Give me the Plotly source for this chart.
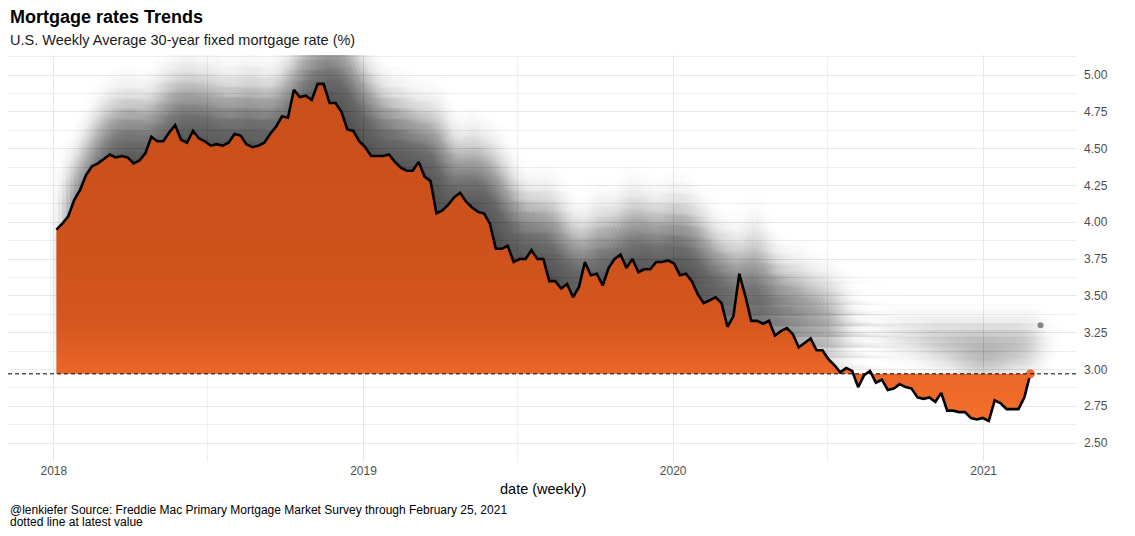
import numpy as np
import pandas as pd
import plotly.graph_objects as go

# ---------------- data ----------------
start_date = "2018-01-04"  # first weekly survey date (Thursdays)
rates_2018 = [3.95, 3.99, 4.04, 4.15, 4.22, 4.32, 4.38, 4.40, 4.43, 4.46, 4.44, 4.45, 4.44,
              4.40, 4.42, 4.47, 4.58, 4.55, 4.55, 4.61, 4.66, 4.56, 4.54, 4.62, 4.57, 4.55,
              4.52, 4.53, 4.52, 4.54, 4.60, 4.59, 4.53, 4.51, 4.52, 4.54, 4.60, 4.65, 4.72,
              4.71, 4.90, 4.85, 4.86, 4.83, 4.94, 4.94, 4.81, 4.81, 4.75, 4.63, 4.62, 4.55]
rates_2019 = [4.51, 4.45, 4.45, 4.45, 4.46, 4.41, 4.37, 4.35, 4.35, 4.41, 4.31, 4.28, 4.06,
              4.08, 4.12, 4.17, 4.20, 4.14, 4.10, 4.07, 4.06, 3.99, 3.82, 3.82, 3.84, 3.73,
              3.75, 3.75, 3.81, 3.75, 3.75, 3.60, 3.60, 3.55, 3.58, 3.49, 3.56, 3.73, 3.64,
              3.65, 3.57, 3.69, 3.75, 3.78, 3.69, 3.75, 3.66, 3.68, 3.68, 3.73, 3.73, 3.74]
rates_2020 = [3.72, 3.64, 3.65, 3.60, 3.51, 3.45, 3.47, 3.49, 3.45, 3.29, 3.36, 3.65, 3.50,
              3.33, 3.33, 3.31, 3.33, 3.23, 3.26, 3.28, 3.24, 3.15, 3.18, 3.21, 3.13, 3.13,
              3.07, 3.03, 2.98, 3.01, 2.99, 2.88, 2.96, 2.99, 2.91, 2.93, 2.86, 2.87, 2.90,
              2.88, 2.87, 2.81, 2.80, 2.81, 2.78, 2.84, 2.72, 2.72, 2.71, 2.71, 2.67, 2.66, 2.67]
rates_2021 = [2.65, 2.79, 2.77, 2.73, 2.73, 2.73, 2.81, 2.97]

rates = rates_2018 + rates_2019 + rates_2020 + rates_2021
dates = pd.date_range(start_date, periods=len(rates), freq="7D")
latest = rates[-1]

x_tick_vals = ["2018-01-01", "2019-01-01", "2020-01-01", "2021-01-01"]
x_tick_text = ["2018", "2019", "2020", "2021"]
x_minor_vals = ["2018-07-01", "2019-07-01", "2020-07-01"]
y_tick_vals = [2.50, 2.75, 3.00, 3.25, 3.50, 3.75, 4.00, 4.25, 4.50, 4.75, 5.00]
y_tick_text = [f"{v:.2f}" for v in y_tick_vals]

title_text = "<b>Mortgage rates Trends</b>"
subtitle_text = "U.S. Weekly Average 30-year fixed mortgage rate (%)"
x_title = "date (weekly)"
caption_1 = "@lenkiefer Source: Freddie Mac Primary Mortgage Market Survey through February 25, 2021"
caption_2 = "dotted line at latest value"

# ---------------- figure ----------------
FONT = "Liberation Sans, Arial, sans-serif"
r = np.asarray(rates)
n = len(r)
pos_lobe = np.maximum(r, latest)
neg_lobe = np.minimum(r, latest)

fig = go.Figure()


# blurred drop shadow (offset up/right), built from many faint shifted copies
def add_shadow(lobe, dark, dx_days, dy, sx_days, sy, steps, spacing):
    base_x = np.concatenate([dates.values, dates.values[::-1]])
    offs = []
    for i in range(-steps, steps + 1):
        for j in range(-steps, steps + 1):
            u, v = i * spacing, j * spacing
            offs.append((u, v, np.exp(-(u * u + v * v) / 2)))
    wsum = sum(o[2] for o in offs)
    for u, v, w in offs:
        a = 1 - (1 - dark) ** (w / wsum)
        shift = dy + v * sy
        top = np.maximum(lobe + shift, latest)
        bottom = np.full(n, latest + max(shift, 0.0))
        xs = base_x + np.timedelta64(int(round((dx_days + u * sx_days) * 24)), "h")
        ys = np.concatenate([top, bottom])
        fig.add_trace(go.Scatter(
            x=pd.to_datetime(xs), y=ys, mode="lines", fill="toself",
            fillcolor=f"rgba(0,0,0,{a:.5f})", line=dict(width=0),
            hoverinfo="skip", showlegend=False))


add_shadow(pos_lobe, 0.56, 16.0, 0.25, 12.0, 0.18, 5, 0.4)
add_shadow(neg_lobe, 0.27, 12.0, 0.30, 15.0, 0.10, 4, 0.45)

# shadow of the end point
fig.add_trace(go.Scatter(
    x=[dates[-1] + pd.Timedelta(days=12)], y=[latest + 0.33],
    mode="markers", marker=dict(size=6, color="rgba(0,0,0,0.45)"),
    hoverinfo="skip", showlegend=False))

# orange area between the series and the latest value
poly_x = list(dates) + list(dates[::-1])
poly_y = list(r) + [latest] * n
fig.add_trace(go.Scatter(
    x=poly_x, y=poly_y, mode="lines", fill="toself",
    line=dict(width=0),
    fillgradient=dict(type="vertical", colorscale=[
        [0.0, "#f4702b"], [0.14, "#ec6628"], [0.28, "#d6571f"], [0.5, "#cd521c"], [1.0, "#c94f1b"]]),
    hoverinfo="skip", showlegend=False))

# main line
fig.add_trace(go.Scatter(
    x=dates, y=r, mode="lines", line=dict(color="black", width=2.6),
    showlegend=False))

# latest value point
fig.add_trace(go.Scatter(
    x=[dates[-1]], y=[latest], mode="markers",
    marker=dict(size=9, color="#f4692a"), showlegend=False))

fig.add_shape(type="line", xref="paper", x0=0, x1=1, yref="y", y0=latest, y1=latest,
              line=dict(color="black", width=1, dash="4px,3px"), layer="above")

GRID = "#e8e8e8"
fig.update_layout(
    width=1127, height=528,
    margin=dict(l=0, r=58, t=47, b=74),
    paper_bgcolor="white", plot_bgcolor="white",
    font=dict(family=FONT, color="#4d4d4d"),
    xaxis=dict(
        type="date", range=["2017-11-08", "2021-04-21"],
        tickmode="array", tickvals=x_tick_vals, ticktext=x_tick_text,
        showgrid=True, gridcolor=GRID, gridwidth=1, zeroline=False, showline=False,
        ticks="", tickfont=dict(size=12, color="#4d4d4d"),
        minor=dict(tickvals=x_minor_vals, showgrid=True, gridcolor="#efefef", gridwidth=1),
    ),
    yaxis=dict(
        side="right", range=[2.371, 5.136],
        tickmode="array", tickvals=y_tick_vals, ticktext=y_tick_text,
        showgrid=True, gridcolor=GRID, gridwidth=1, zeroline=False, showline=False,
        ticks="", tickfont=dict(size=12, color="#4d4d4d"), ticklabelstandoff=6,
        minor=dict(tick0=2.375, dtick=0.25, showgrid=True, gridcolor="#efefef", gridwidth=1),
    ),
    annotations=[
        dict(text=title_text, xref="paper", yref="paper", x=0, y=1.0934, xanchor="left",
             yanchor="middle", showarrow=False, font=dict(size=18, color="black", family=FONT)),
        dict(text=subtitle_text, xref="paper", yref="paper", x=0, y=1.0369, xanchor="left",
             yanchor="middle", showarrow=False, font=dict(size=14.5, color="#1a1a1a", family=FONT)),
        dict(text=x_title, xref="paper", yref="paper", x=0.5, y=-0.0663, xanchor="center",
             yanchor="middle", showarrow=False, font=dict(size=14.5, color="black", family=FONT)),
        dict(text=caption_1, xref="paper", yref="paper", x=0, y=-0.1179, xanchor="left",
             yanchor="middle", showarrow=False, font=dict(size=12, color="black", family=FONT)),
        dict(text=caption_2, xref="paper", yref="paper", x=0, y=-0.1474, xanchor="left",
             yanchor="middle", showarrow=False, font=dict(size=12, color="black", family=FONT)),
    ],
)

fig.write_html("out.html")
